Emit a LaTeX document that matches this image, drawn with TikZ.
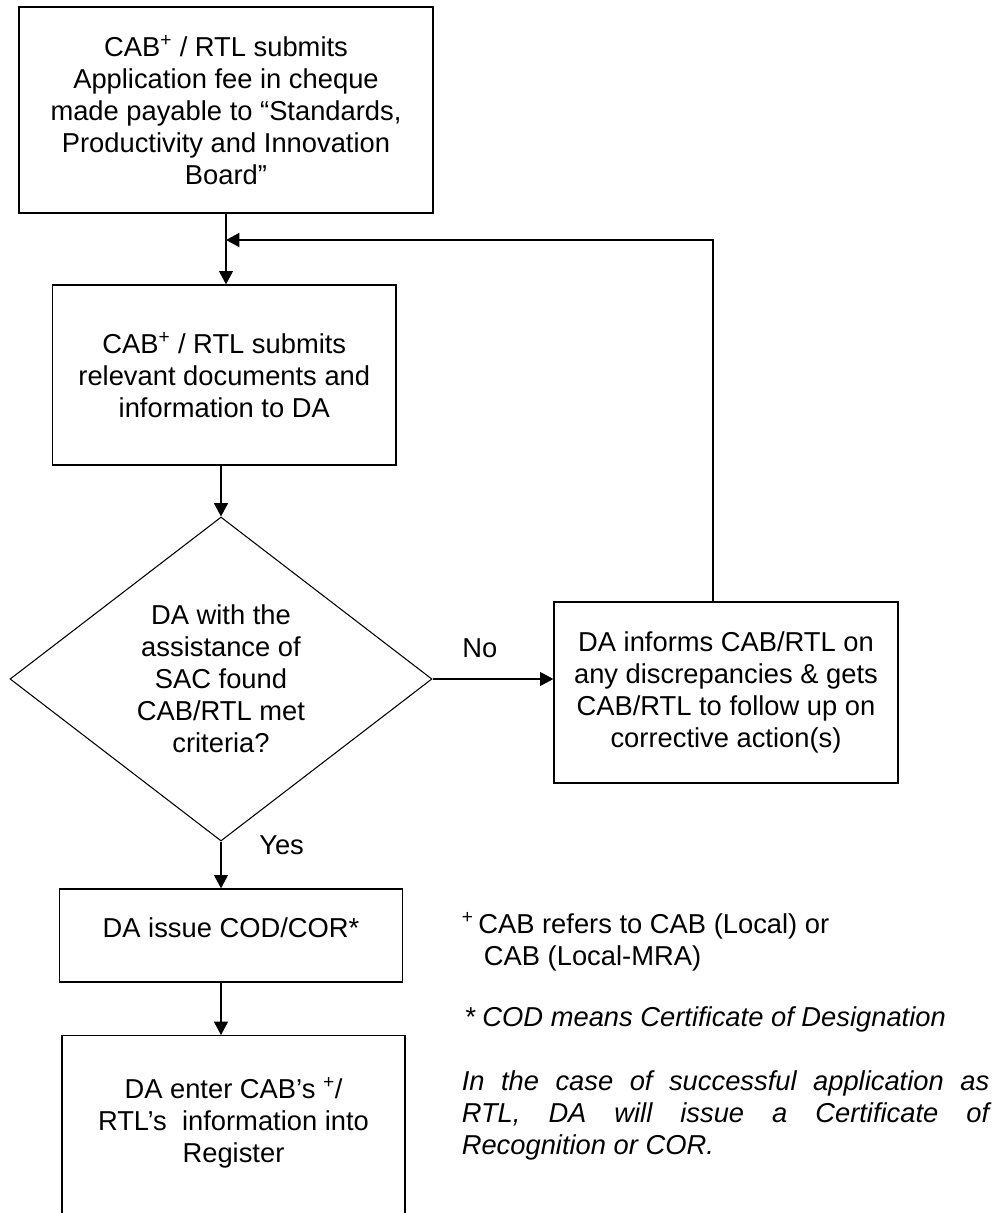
\documentclass[tikz,border=0pt]{standalone}
\usepackage{fontspec}
\setmainfont{Liberation Sans}
\usetikzlibrary{shapes.geometric,arrows.meta}

\begin{document}
\begin{tikzpicture}[x=0.75pt,y=0.75pt,yscale=-1,xscale=1,
    every node/.append style={font=\fontsize{20.5}{24}\selectfont},
    procbox/.style={draw,line width=1pt,align=center,inner sep=0.75pt},
    decision/.style={draw,diamond,aspect=1.3,line width=0.8pt,align=center,inner sep=0pt},
    flow/.style={line width=0.9pt,-{Triangle[length=10pt,width=10.5pt]}},
    note/.style={inner sep=0pt,align=left}]
    %set diagram left start at 0, and has height of 1213
    \useasboundingbox (0,0) rectangle (992,1213);

    % Text Node
    \node (box1) at (226,110) [procbox,minimum width=310.5pt,minimum height=154.5pt] {CAB\textsuperscript{+} / RTL submits\\Application fee in cheque\\made payable to “Standards,\\Productivity and Innovation\\Board”};
    % Text Node
    \node (box2) at (224.3,375) [procbox,minimum width=257.6pt,minimum height=135pt] {CAB\textsuperscript{+} / RTL submits\\relevant documents and\\information to DA};
    % Text Node
    \node (dia) at (221,679) [decision,minimum width=316.5pt,minimum height=243pt] {DA with the\\assistance of\\SAC found\\CAB/RTL met\\criteria?};
    % Text Node
    \node (box3) at (726,692.5) [procbox,minimum width=258pt,minimum height=135.75pt] {DA informs CAB/RTL on\\any discrepancies \& gets\\CAB/RTL to follow up on\\corrective action(s)};
    % Text Node
    \node (box4) at (231,935.5) [procbox,minimum width=257.25pt,minimum height=69.75pt,text depth=12pt] {DA issue COD/COR*};
    % Text Node
    \node (box5) at (233.5,1035) [procbox,anchor=north,minimum width=257.25pt,inner ysep=31.5pt] {DA enter CAB’s \textsuperscript{+}/\\RTL’s\ \ information into\\Register\\[40pt]\mbox{}};

    % Text Node
    \node (no) at (462,657) [note,anchor=base west] {No};
    % Text Node
    \node (yes) at (259,854) [note,anchor=base west] {Yes};

    % Text Node
    \node (fnplus) at (461.7,912) [note,anchor=north west] {\textsuperscript{+}\,CAB refers to CAB (Local) or\\\hspace*{16.5pt}CAB (Local-MRA)};
    % Text Node
    \node (fnstar) at (464,1026.7) [note,anchor=base west,font=\fontsize{20.5}{24}\selectfont\itshape] {* COD means Certificate of Designation};
    % Text Node
    \node (fnrtl) at (461.5,1070) [note,anchor=north west,text width=395.6pt,align=justify,font=\fontsize{20.5}{24}\selectfont\itshape] {\tolerance=10000\relax In the case of successful application as\linebreak RTL, DA will issue a Certificate of\linebreak Recognition or COR.};

    \coordinate (fbtop) at (713,240);

    %Straight Lines
    \draw [flow] (box1.south) -- (box1.south |- box2.north);
    %Straight Lines
    \draw [flow] (box2.south -| dia.north) -- (dia.north);
    %Straight Lines
    \draw [flow] (dia.south) -- (dia.south |- box4.north);
    %Straight Lines
    \draw [flow] (box4.south -| dia.south) -- (dia.south |- box5.north);
    %Straight Lines
    \draw [flow] (dia.east) -- (dia.east -| box3.west);
    %Straight Lines
    \draw [flow] (box3.north -| fbtop) -- (fbtop) -- (fbtop -| box1.south);

\end{tikzpicture}
\end{document}
